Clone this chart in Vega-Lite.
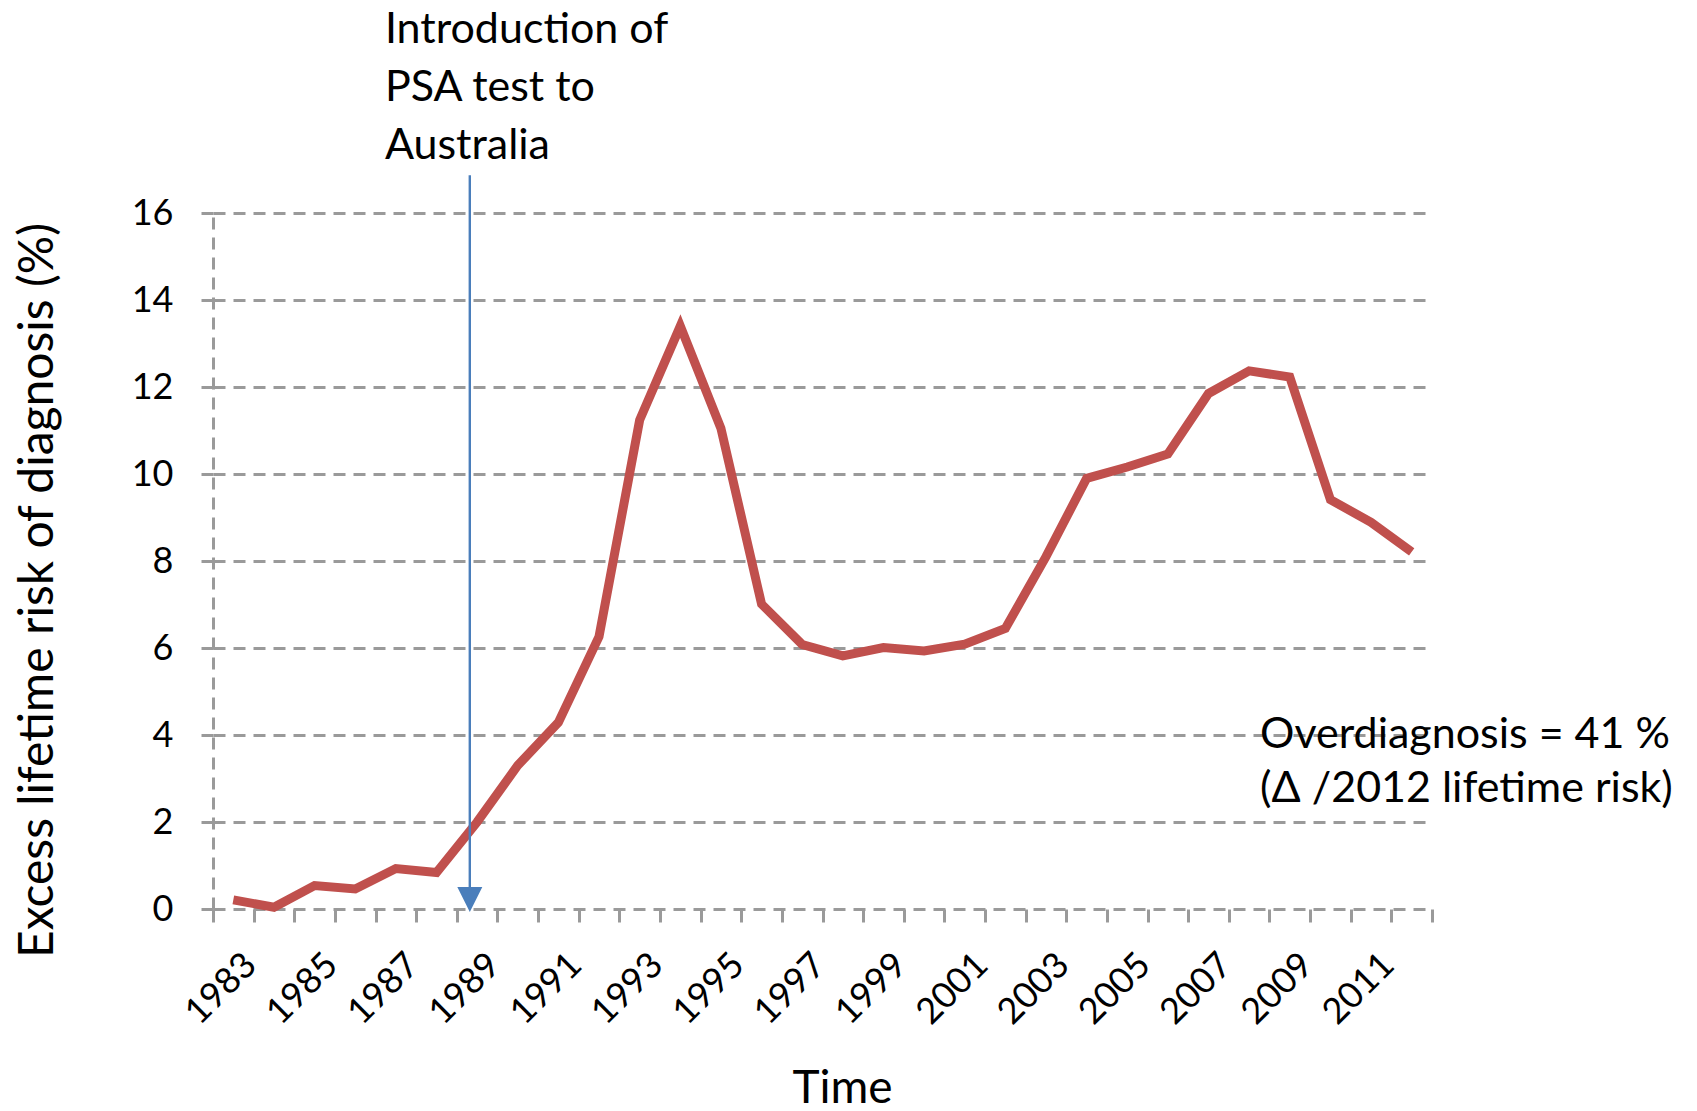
{
  "$schema": "https://vega.github.io/schema/vega-lite/v6.json",
  "width": 1219,
  "height": 696,
  "autosize": {"type": "none"},
  "padding": {"left": 213, "top": 213, "right": 265, "bottom": 202},
  "background": "white",
  "config": {"view": {"stroke": null}, "font": "Lato"},
  "datasets": {
    "risk": [
      {"year": 1983, "risk": 0.21}, {"year": 1984, "risk": 0.04}, {"year": 1985, "risk": 0.54},
      {"year": 1986, "risk": 0.46}, {"year": 1987, "risk": 0.93}, {"year": 1988, "risk": 0.84},
      {"year": 1989, "risk": 2.0}, {"year": 1990, "risk": 3.3}, {"year": 1991, "risk": 4.29},
      {"year": 1992, "risk": 6.26}, {"year": 1993, "risk": 11.24}, {"year": 1994, "risk": 13.4},
      {"year": 1995, "risk": 11.05}, {"year": 1996, "risk": 7.01}, {"year": 1997, "risk": 6.08},
      {"year": 1998, "risk": 5.82}, {"year": 1999, "risk": 6.01}, {"year": 2000, "risk": 5.93},
      {"year": 2001, "risk": 6.09}, {"year": 2002, "risk": 6.45}, {"year": 2003, "risk": 8.1},
      {"year": 2004, "risk": 9.9}, {"year": 2005, "risk": 10.16}, {"year": 2006, "risk": 10.46},
      {"year": 2007, "risk": 11.85}, {"year": 2008, "risk": 12.37}, {"year": 2009, "risk": 12.23},
      {"year": 2010, "risk": 9.41}, {"year": 2011, "risk": 8.89}, {"year": 2012, "risk": 8.21}
    ],
    "psa": [{"year": 1989, "risk": 16.87, "risk0": 0.22}],
    "psaNote": [{"year": 1987, "risk": 19.9, "note": "Introduction of\nPSA test to\nAustralia"}],
    "overNote": [{"year": 2008, "risk": 3.71, "note": "Overdiagnosis = 41 %\n(Δ /2012 lifetime risk)"}]
  },
  "layer": [
    {
      "data": {"name": "risk"},
      "mark": {"type": "line", "color": "#C0504D", "strokeWidth": 9, "strokeJoin": "miter"},
      "encoding": {
        "x": {
          "field": "year", "type": "ordinal",
          "scale": {"type": "band", "paddingInner": 0, "paddingOuter": 0},
          "axis": {
            "title": "Time", "titleFont": "Lato", "titleFontSize": 46, "titleFontWeight": "normal",
            "titleColor": "#000000", "titleX": 629, "titleY": 193, "titleBaseline": "alphabetic",
            "labelAngle": -45, "labelAlign": "right", "labelBaseline": "middle",
            "labelFont": "Lato", "labelFontSize": 36, "labelColor": "#000000",
            "labelOffset": 17, "labelPadding": 37, "labelOverlap": false, "labelFlush": false,
            "labelExpr": "(toNumber(datum.value) - 1983) % 2 == 0 ? datum.label : ''",
            "tickBand": "extent", "tickColor": "#9A9A9A", "tickSize": 13, "tickWidth": 3,
            "domain": false, "grid": false
          }
        },
        "y": {
          "field": "risk", "type": "quantitative",
          "scale": {"domain": [0, 16], "nice": false},
          "axis": {
            "title": "Excess lifetime risk of diagnosis (%)", "titleFont": "Lato", "titleFontSize": 48,
            "titleFontWeight": "normal", "titleColor": "#000000", "titleX": -175, "titleY": 377,
            "titleBaseline": "middle", "titleAngle": -90,
            "values": [0, 2, 4, 6, 8, 10, 12, 14, 16],
            "labelFont": "Lato", "labelFontSize": 36, "labelColor": "#000000", "labelPadding": 28,
            "tickColor": "#9A9A9A", "tickSize": 12, "tickWidth": 3,
            "domainColor": "#9A9A9A", "domainWidth": 3, "domainDash": [12, 8],
            "grid": true, "gridColor": "#9A9A9A", "gridWidth": 3, "gridDash": [12, 8]
          }
        }
      }
    },
    {
      "data": {"name": "psa"},
      "mark": {"type": "rule", "color": "#4A7EBB", "strokeWidth": 2.4},
      "encoding": {
        "x": {"field": "year", "type": "ordinal", "bandPosition": 0.32},
        "y": {"field": "risk", "type": "quantitative"},
        "y2": {"field": "risk0"}
      }
    },
    {
      "data": {"name": "psa"},
      "mark": {"type": "point", "shape": "M-1,-1L1,-1L0,1Z", "filled": true, "color": "#4A7EBB", "opacity": 1, "size": 625, "strokeWidth": 0},
      "encoding": {
        "x": {"field": "year", "type": "ordinal", "bandPosition": 0.32},
        "y": {"field": "risk0", "type": "quantitative"}
      }
    },
    {
      "data": {"name": "psaNote"},
      "mark": {"type": "text", "align": "left", "baseline": "alphabetic", "font": "Lato", "fontSize": 43, "lineHeight": 58, "lineBreak": "\n", "color": "#000000"},
      "encoding": {
        "x": {"field": "year", "type": "ordinal", "bandPosition": 0.23},
        "y": {"field": "risk", "type": "quantitative"},
        "text": {"field": "note"}
      }
    },
    {
      "data": {"name": "overNote"},
      "mark": {"type": "text", "align": "left", "baseline": "alphabetic", "font": "Lato", "fontSize": 43, "lineHeight": 54, "lineBreak": "\n", "color": "#000000"},
      "encoding": {
        "x": {"field": "year", "type": "ordinal", "bandPosition": 0.77},
        "y": {"field": "risk", "type": "quantitative"},
        "text": {"field": "note"}
      }
    }
  ]
}
